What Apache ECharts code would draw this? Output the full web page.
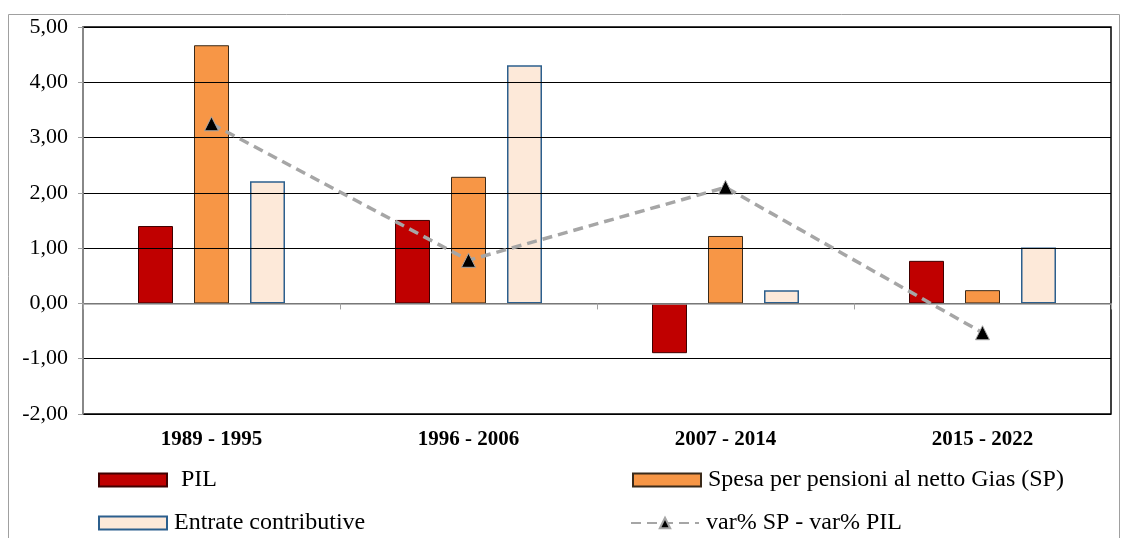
<!DOCTYPE html>
<html>
<head>
<meta charset="utf-8">
<script src="https://cdn.jsdelivr.net/npm/echarts@6/dist/echarts.min.js"></script>
<style>
  html, body { margin: 0; padding: 0; background: #fff; }
  #chart { width: 1121px; height: 538px; }
</style>
</head>
<body>
<div id="chart"></div>
<script>
// dati
const categories = ['1989 - 1995', '1996 - 2006', '2007 - 2014', '2015 - 2022']
const pil = [1.40, 1.51, -0.90, 0.77]
const spesaPensioni = [4.67, 2.29, 1.22, 0.24]
const entrateContributive = [2.21, 4.31, 0.24, 1.01]
const diffSpPil = [3.25, 0.78, 2.10, -0.53]

const serif = '"Liberation Serif", "DejaVu Serif", serif'
const fmt = v => v.toFixed(2).replace('.', ',')

// una legenda per voce, per tenerle nella griglia 2x2
const legendItem = (name, left, top, gap) => ({
  left: left, top: top, padding: 0,
  itemWidth: 68, itemHeight: 13, icon: name.startsWith('var%') ? undefined : 'rect',
  textStyle: { fontFamily: serif, fontSize: 24, color: '#000', padding: [0, 0, 0, gap] },
  data: [name]
})

const chart = echarts.init(document.getElementById('chart'))

const option = {
  animation: false,
  textStyle: { fontFamily: serif, color: '#000' },
  graphic: [
    {
      type: 'rect',
      shape: { x: 8.5, y: 14.5, width: 1111, height: 540 },
      style: { fill: 'none', stroke: '#a0a0a0', lineWidth: 1 },
      silent: true
    }
  ],
  grid: {
    left: 83, right: 10, top: 27, bottom: 124,
    show: true, borderColor: '#000', borderWidth: 1.5
  },
  legend: [
    legendItem('PIL', 98, 468, 9),
    legendItem('Entrate contributive', 98, 511, 2),
    legendItem('Spesa per pensioni al netto Gias (SP)', 632, 468, 2),
    legendItem('var% SP - var% PIL', 630, 511, 2)
  ],
  xAxis: [
    {
      type: 'category', data: categories,
      axisLine: { onZero: true, lineStyle: { color: '#a0a0a0', width: 1.5 } },
      axisTick: { show: true, length: 6, lineStyle: { color: '#a0a0a0' } },
      axisLabel: { show: false },
      z: 5
    },
    {
      type: 'category', data: categories, position: 'bottom',
      axisLine: { show: false, onZero: false },
      axisTick: { show: false },
      axisLabel: { fontFamily: serif, fontSize: 21, fontWeight: 'bold', color: '#000', margin: 15 }
    }
  ],
  yAxis: {
    type: 'value', min: -2, max: 5, interval: 1,
    axisLine: { show: true, lineStyle: { color: '#a0a0a0', width: 1.5 } },
    axisTick: { show: true, length: 5, lineStyle: { color: '#a0a0a0' } },
    axisLabel: { fontFamily: serif, fontSize: 22, color: '#000', margin: 15, formatter: fmt },
    splitLine: { lineStyle: { color: '#000', width: 1.2 } },
    z: 5
  },
  series: [
    {
      name: 'PIL', type: 'bar', data: pil,
      barWidth: 35, barGap: '60%',
      itemStyle: { color: '#c00000', borderColor: '#400000', borderWidth: 1 }
    },
    {
      name: 'Spesa per pensioni al netto Gias (SP)', type: 'bar', data: spesaPensioni,
      barWidth: 35, barGap: '60%',
      itemStyle: { color: '#f79646', borderColor: '#3a2a1a', borderWidth: 1 }
    },
    {
      name: 'Entrate contributive', type: 'bar', data: entrateContributive,
      barWidth: 35, barGap: '60%',
      itemStyle: { color: '#fde9d9', borderColor: '#2c5f8d', borderWidth: 1.5 }
    },
    {
      name: 'var% SP - var% PIL', type: 'line', data: diffSpPil,
      symbol: 'triangle', symbolSize: 14,
      lineStyle: { color: '#a6a6a6', width: 3.5, type: [10, 6] },
      itemStyle: { color: '#000', borderColor: '#a6a6a6', borderWidth: 1 },
      z: 10
    }
  ]
}

chart.setOption(option)
</script>
</body>
</html>
